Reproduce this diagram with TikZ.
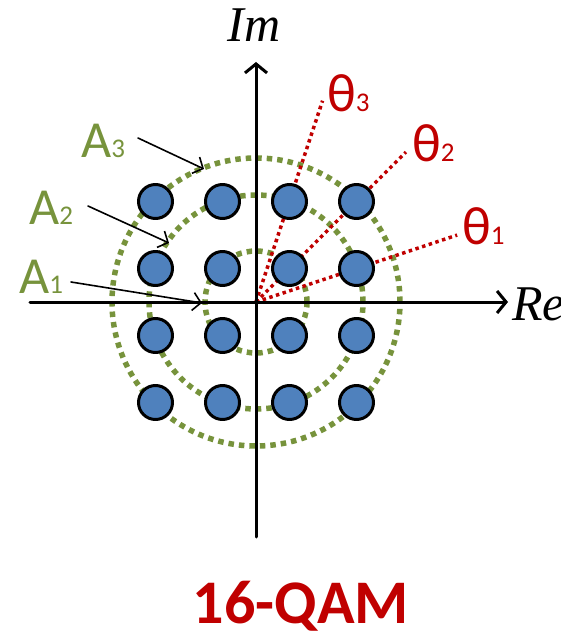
\documentclass[tikz,border=0pt]{standalone}
\usepackage{fontspec}
\setmainfont{Liberation Serif}
\setsansfont{Carlito}
\usetikzlibrary{arrows.meta}
\definecolor{qamgreen}{RGB}{119,147,60}
\definecolor{qamred}{RGB}{192,0,0}
\definecolor{qamblue}{RGB}{79,129,189}
\tikzset{
  dot/.style={circle, draw=black, line width=3pt, fill=qamblue, minimum size=34pt, inner sep=0pt},
  ring/.style={qamgreen, line width=5.5pt, line cap=butt, dash pattern=on 5.5pt off 5pt},
  ray/.style={qamred, line width=3.5pt, line cap=butt, dash pattern=on 3.5pt off 3.5pt},
  axis/.style={line width=3pt, -{Straight Barb[length=9pt,width=22pt]}},
  pointer/.style={line width=1.6pt, -{Straight Barb[length=8pt,width=18pt]}},
  amp/.style={qamgreen, font=\sffamily\fontsize{52}{52}\selectfont, inner sep=0pt, anchor=base west},
  ang/.style={qamred, font=\sffamily\fontsize{54}{54}\selectfont, inner sep=0pt, anchor=base west},
  axlabel/.style={font=\itshape\fontsize{50}{50}\selectfont, inner sep=0pt}
}
\newcommand{\lowdigit}[1]{{\fontsize{27}{27}\selectfont #1}}
\begin{document}
\begin{tikzpicture}[x=1pt, y=1pt, line cap=round, line join=round]
    \useasboundingbox (-256,-335) rectangle (305,302);
    \coordinate (O) at (0,0);
    % amplitude rings
    \foreach \r in {51,107,144} { \draw[ring] (O) circle (\r); }
    % phase rays
    \foreach \a/\n in {18.4/1,45/2,71.7/3} { \draw[ray] (O) -- (\a:212) coordinate (t\n); }
    % axes
    \coordinate (xl) at (-226,0);
    \coordinate (xr) at (252,0);
    \coordinate (yb) at (0,-235);
    \coordinate (yt) at (0,240);
    \draw[axis] (xl) -- (xr);
    \draw[axis] (yb) -- (yt);
    \node[axlabel, anchor=base] (im) at (-2,260) {Im};
    \node[axlabel, anchor=base west] (re) at (256,-18) {Re};
    % constellation points
    \foreach \i/\x in {1/-100.5,2/-33.5,3/33.5,4/100.5}
      \foreach \j/\y in {1/100.5,2/33.5,3/-33.5,4/-100.5}
        { \node[dot] (p\i\j) at (\x,\y) {}; }
    % angle labels
    \node[ang] (th1) at (206,57) {θ\lowdigit{1}};
    \node[ang] (th2) at (156,140) {θ\lowdigit{2}};
    \node[ang] (th3) at (71,190) {θ\lowdigit{3}};
    % amplitude labels
    \node[amp] (a3) at (-175,144) {A\lowdigit{3}};
    \node[amp] (a2) at (-227,77) {A\lowdigit{2}};
    \node[amp] (a1) at (-237,9) {A\lowdigit{1}};
    \coordinate (e3) at (-52,133);
    \coordinate (e2) at (-87,59);
    \coordinate (e1) at (-54,-1);
    \draw[pointer] (-118,164) -- (e3);
    \draw[pointer] (-168,96) -- (e2);
    \draw[pointer] (-185,20) -- (e1);
    % caption
    \node[qamred, font=\sffamily\bfseries\fontsize{62}{62}\selectfont, inner sep=0pt, anchor=base] (cap) at (45,-321) {16-QAM};
  \end{tikzpicture}
\end{document}
